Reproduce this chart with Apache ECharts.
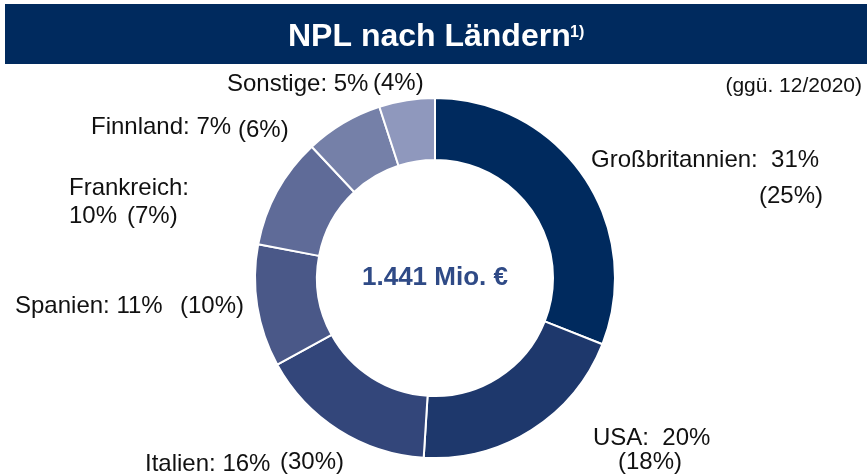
<!DOCTYPE html>
<html><head><meta charset="utf-8">
<script src="https://cdn.jsdelivr.net/npm/echarts@6/dist/echarts.min.js"></script>
<style>html,body{margin:0;padding:0;background:#fff}#c{width:867px;height:476px}</style>
</head><body><div id="c"></div>
<script>
const countries = ["Großbritannien", "USA", "Italien", "Spanien", "Frankreich", "Finnland", "Sonstige"];
const shares = [31, 20, 16, 11, 10, 7, 5];
const prevShares = [25, 18, 30, 10, 7, 6, 4];
const totalLabel = "1.441 Mio. €";
const titleText = "NPL nach Ländern";
const compareNote = "(ggü. 12/2020)";

const colors = ["#002a5e", "#1e386c", "#33467a", "#4a5888", "#5f6b98", "#7580a8", "#8f98bd"];
const layout = {
  "Großbritannien": {main: [591, 160], prev: [759, 196], sep: ":  "},
  "USA": {main: [593, 438], prev: [618, 462], sep: ":  "},
  "Italien": {main: [145, 464], prev: [280, 462], sep: ": "},
  "Spanien": {main: [15, 306], prev: [180, 306], sep: ": "},
  "Frankreich": {main: [69, 188], second: [69, 216], prev: [127, 216], sep: ":"},
  "Finnland": {main: [91, 127], prev: [238, 130], sep: ": "},
  "Sonstige": {main: [227, 84], prev: [373, 83], sep: ": "}
};
const FONT = "Liberation Sans, Arial, sans-serif";
const labelStyle = (x, y, t) => ({type: "text", style: {x, y, text: t, fill: "#111", font: "24px " + FONT, textVerticalAlign: "middle"}});

const g = [
  {type: "rect", shape: {x: 5, y: 4, width: 862, height: 60}, style: {fill: "#002a5e"}},
  {type: "text", style: {x: 288, y: 37, text: titleText, fill: "#fff", font: "bold 32px " + FONT, textVerticalAlign: "middle"}},
  {type: "text", style: {x: 570, y: 33, text: "1)", fill: "#fff", font: "bold 16px " + FONT, textVerticalAlign: "middle"}},
  {type: "text", style: {x: 862, y: 86, text: compareNote, fill: "#111", font: "21px " + FONT, textAlign: "right", textVerticalAlign: "middle"}}
];
countries.forEach((c, i) => {
  const L = layout[c];
  if (L.second) {
    g.push(labelStyle(L.main[0], L.main[1], c + L.sep));
    g.push(labelStyle(L.second[0], L.second[1], shares[i] + "%"));
  } else {
    g.push(labelStyle(L.main[0], L.main[1], c + L.sep + shares[i] + "%"));
  }
  g.push(labelStyle(L.prev[0], L.prev[1], "(" + prevShares[i] + "%)"));
});

const chart = echarts.init(document.getElementById("c"));
chart.setOption({
  animation: false,
  backgroundColor: "#fff",
  graphic: g,
  series: [{
    type: "pie",
    center: [435, 278],
    radius: [118, 180],
    startAngle: 90,
    clockwise: true,
    label: {show: true, position: "center", formatter: () => totalLabel, color: "#2f4a86", fontSize: 26, fontWeight: "bold", fontFamily: FONT},
    labelLine: {show: false},
    emphasis: {disabled: true},
    itemStyle: {borderColor: "#fff", borderWidth: 2},
    data: countries.map((c, i) => ({name: c, value: shares[i], itemStyle: {color: colors[i]}, label: {show: i === 0}}))
  }]
});
</script></body></html>
